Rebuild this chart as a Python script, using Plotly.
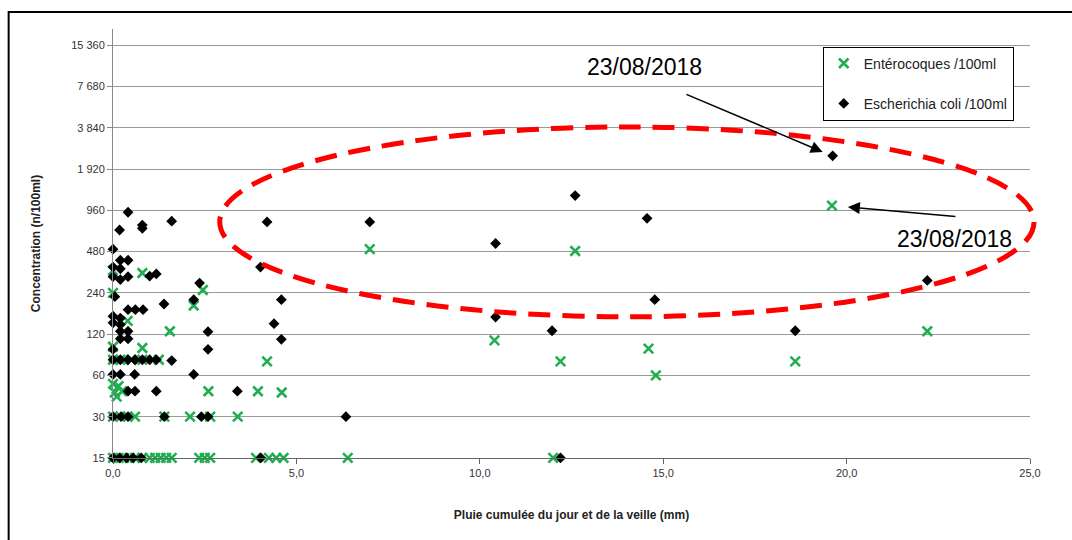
import math
import plotly.graph_objects as go

# Cumulative rainfall (mm) and concentrations (n/100ml) per sample
ent_x = [0.0, 0.15, 0.3, 0.45, 0.6, 0.8, 1.0, 1.15, 1.3, 1.45, 1.6, 2.35, 2.5, 2.65, 3.9, 4.25, 4.45, 4.65, 6.4, 12.0,
         0.0, 0.2, 0.4, 0.6, 1.4, 2.1, 2.65, 3.4,
         0.0, 0.15, 0.05, 0.25, 0.1, 2.6, 3.95, 4.6,
         0.0, 0.2, 0.5, 0.8, 1.25, 4.2, 12.2, 18.6,
         0.0, 0.8, 14.6, 14.8,
         0.4, 1.55, 10.4, 22.2,
         0.0, 2.2, 2.45,
         0.0, 0.8,
         7.0, 12.6, 19.6]
ent_y = [15, 15, 15, 15, 15, 15, 15, 15, 15, 15, 15, 15, 15, 15, 15, 15, 15, 15, 15, 15,
         30, 30, 30, 30, 30, 30, 30, 30,
         52, 50, 45, 46, 42, 46, 46, 45,
         78, 78, 78, 78, 78, 76, 76, 76,
         97, 95, 94, 60,
         150, 126, 108, 126,
         240, 194, 252,
         350, 335,
         500, 485, 1040]

eco_x = [0.0, 0.18, 0.37, 0.55, 0.77, 4.03, 12.2,
         0.0, 0.22, 0.41, 1.4, 2.41, 2.59, 6.35,
         0.41, 0.6, 1.18, 3.39,
         0.0, 0.2, 0.59, 2.2,
         0.0, 0.2, 0.41, 0.6, 0.8, 1.0, 1.18, 1.6,
         0.0, 2.59,
         0.2, 0.41, 4.59,
         0.2, 0.41, 2.59, 11.97, 18.6,
         0.0, 0.2, 4.39,
         0.0, 0.2, 10.43,
         0.41, 0.61, 0.82,
         0.05, 1.39, 2.2, 4.59, 14.77,
         2.36, 22.2,
         0.0, 0.2, 0.41, 1.0, 1.18,
         0.0, 0.2, 0.2, 0.41, 4.02,
         0.0, 10.43,
         0.18, 0.8, 0.8, 0.41, 1.6, 4.2, 7.0, 14.56,
         12.6, 19.62]
eco_y = [15, 15, 15, 15, 15, 15, 15,
         30, 30, 30, 30, 30, 30, 30,
         46, 46, 46, 46,
         61, 61, 61, 61,
         78, 78, 78, 78, 78, 78, 78, 77,
         93, 93,
         111, 111, 110,
         126, 126, 125, 127, 127,
         145, 141, 143,
         162, 157, 160,
         181, 181, 181,
         225, 199, 214, 214, 214,
         283, 296,
         315, 300, 315, 318, 330,
         370, 360, 415, 415, 370,
         500, 550,
         690, 750, 710, 930, 800, 790, 790, 840,
         1230, 2400]

y_ticks = [15, 30, 60, 120, 240, 480, 960, 1920, 3840, 7680, 15360]
y_tick_text = ["15", "30", "60", "120", "240", "480", "960", "1 920", "3 840", "7 680", "15 360"]
x_ticks = [0, 5, 10, 15, 20, 25]
x_tick_text = ["0,0", "5,0", "10,0", "15,0", "20,0", "25,0"]

# Highlighted event: 23/08/2018
event_date = "23/08/2018"
event_rain = 19.6
event_eco = 2400
event_ent = 1040

FONT = "Liberation Sans, Arial, sans-serif"
GREEN = "#1FAF50"

fig = go.Figure()
fig.add_trace(go.Scatter(
    x=ent_x, y=ent_y, mode="markers", name="Entérocoques /100ml",
    legendgroup="ent", cliponaxis=False,
    marker=dict(symbol="x-thin-open", size=9.5, color=GREEN,
                line=dict(color=GREEN, width=2.6)),
))
fig.add_trace(go.Scatter(
    x=eco_x, y=eco_y, mode="markers", name="Escherichia coli /100ml",
    legendgroup="eco", cliponaxis=False,
    marker=dict(symbol="diamond", size=8.3, color="black"),
))

# Dashed ellipse around the high-rainfall samples
fig.add_shape(type="circle", xref="paper", yref="paper",
              x0=0.1164, x1=1.0044, y0=0.3291, y1=0.7717,
              line=dict(color="#FF0000", width=5, dash="22px,12px"))

# Outer chart frame
fig.add_shape(type="rect", xref="paper", yref="paper",
              x0=-0.1138, x1=1.06, y0=-0.21, y1=1.0396,
              line=dict(color="black", width=2))

# Date labels and arrows pointing to the event samples
fig.add_annotation(xref="paper", yref="paper", x=0.580, y=0.9115,
                   xanchor="center", yanchor="middle",
                   text=event_date, showarrow=False,
                   font=dict(family=FONT, size=23, color="black"))
fig.add_annotation(xref="paper", yref="paper", x=0.9182, y=0.5107,
                   xanchor="center", yanchor="middle",
                   text=event_date, showarrow=False,
                   font=dict(family=FONT, size=23, color="black"))
fig.add_annotation(x=event_rain, y=math.log10(event_eco), text="",
                   showarrow=True, ax=-147, ay=-62, arrowhead=2,
                   arrowsize=1.6, arrowwidth=1.5, arrowcolor="black", standoff=10)
fig.add_annotation(x=event_rain, y=math.log10(event_ent), text="",
                   showarrow=True, ax=125, ay=11, arrowhead=2,
                   arrowsize=1.6, arrowwidth=1.5, arrowcolor="black", standoff=16)

fig.update_layout(
    width=1072, height=540,
    margin=dict(l=113, r=42, t=29, b=82),
    paper_bgcolor="white", plot_bgcolor="white",
    font=dict(family=FONT, size=11, color="#222"),
    showlegend=True,
    legend=dict(x=0.774, y=0.9588, xanchor="left", yanchor="top",
                bgcolor="white", bordercolor="black", borderwidth=1,
                font=dict(family=FONT, size=14, color="#222"),
                tracegroupgap=19, itemwidth=30),
)
fig.update_xaxes(
    range=[0, 25], tickvals=x_ticks, ticktext=x_tick_text,
    showgrid=False, zeroline=False, showline=True, linecolor="#666", linewidth=1,
    ticks="outside", ticklen=5, tickcolor="#666",
    tickfont=dict(family=FONT, size=11, color="#333"),
    title=dict(text="<b>Pluie cumulée du jour et de la veille (mm)</b>",
               font=dict(family=FONT, size=12, color="#222"), standoff=32),
)
fig.update_yaxes(
    type="log", range=[math.log10(15) - 0.0006, 4.3052],
    tickvals=y_ticks, ticktext=y_tick_text,
    showgrid=True, gridcolor="#9a9a9a", gridwidth=1,
    zeroline=False, showline=True, linecolor="#888", linewidth=1,
    ticks="outside", ticklen=5, tickcolor="#888",
    tickfont=dict(family=FONT, size=11, color="#333"),
    title=dict(text="<b>Concentration (n/100ml)</b>",
               font=dict(family=FONT, size=12, color="#222"), standoff=27),
)

fig.write_html("out.html")
